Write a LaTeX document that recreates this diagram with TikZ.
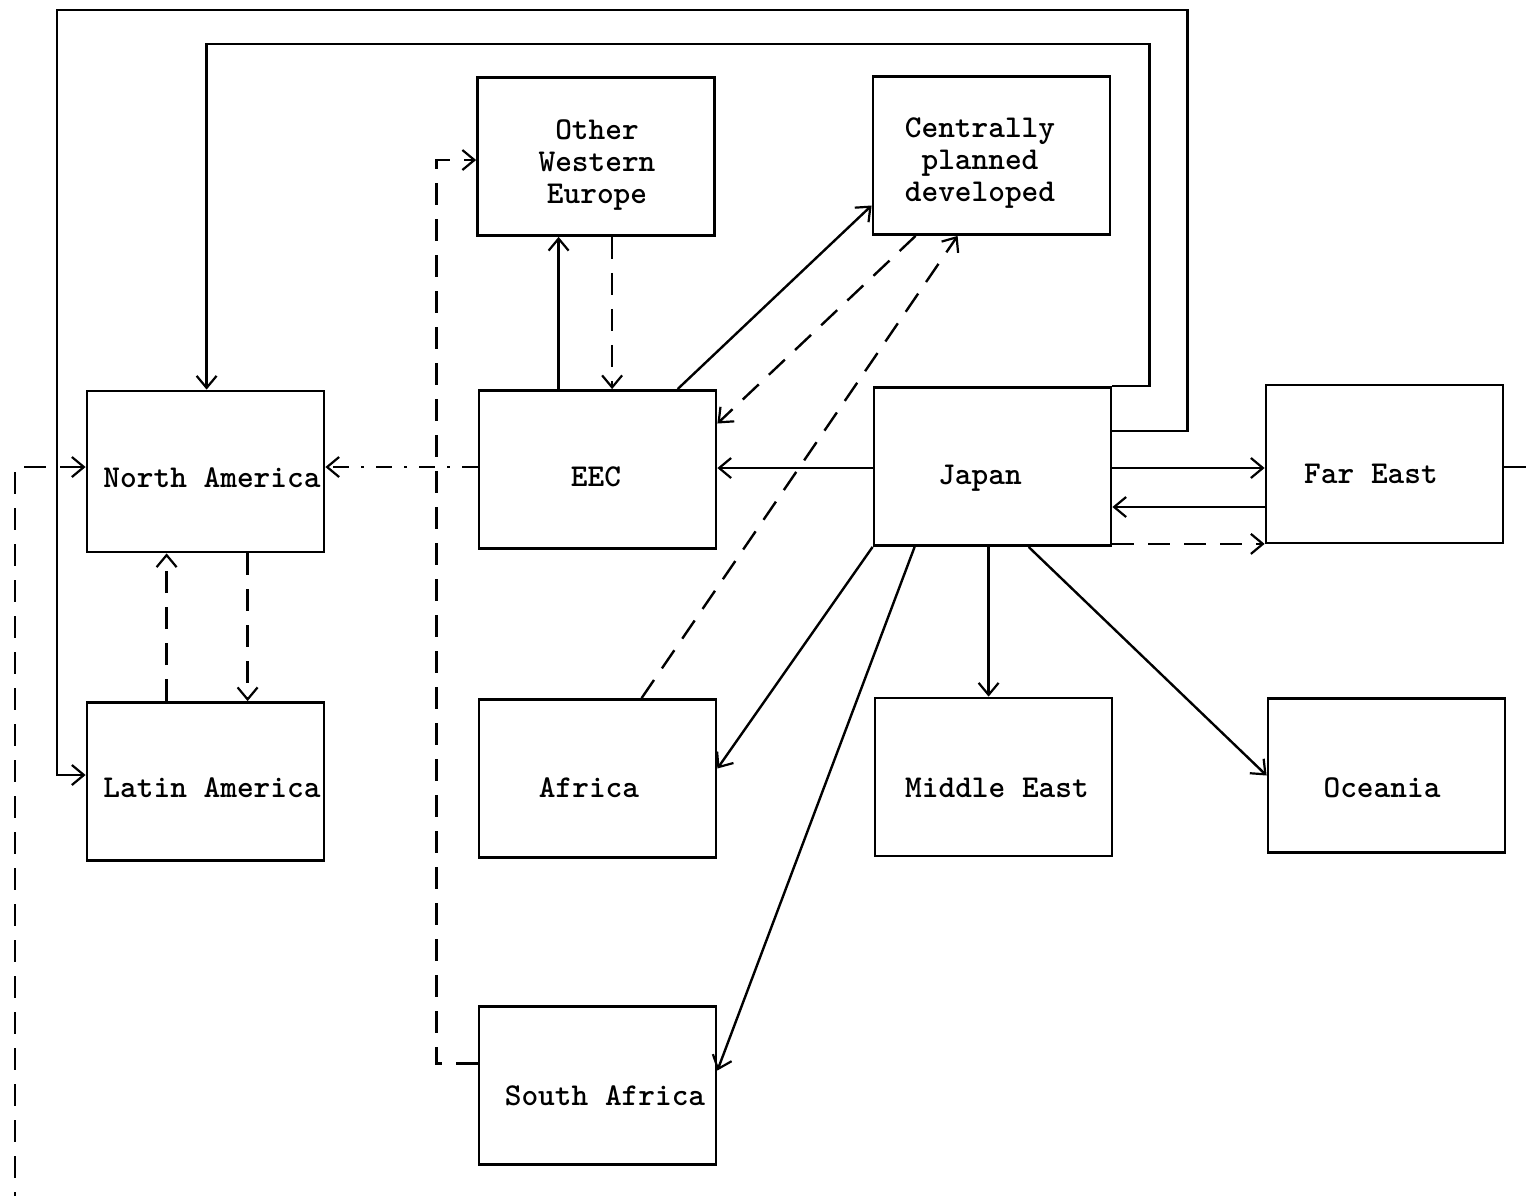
\documentclass[tikz,border=0pt]{standalone}
\usepackage{fontspec}
\usetikzlibrary{arrows.meta,calc}

\begin{document}
\begin{tikzpicture}[x=0.5pt,y=-0.5pt,
  box/.style={draw, line width=1.4pt, minimum width=118.5pt, minimum height=79pt, inner sep=0pt},
  lbl/.style={font=\ttfamily\bfseries\fontsize{15.9}{16}\selectfont, inner sep=0pt},
  conn/.style={line width=1.2pt},
  arr/.style={-{Straight Barb[length=6pt,width=10pt,line width=1.1pt]}},
  dsh/.style={conn, dash pattern=on 11pt off 7pt},
  dshdot/.style={conn, dash pattern=on 8pt off 6pt on 1.5pt off 6pt},
]
\useasboundingbox (0,0) rectangle (1526,1195);

% ---- regions ----
\node[box] (owe) at (596,156.5) {};
\node[box] (cpd) at (991.5,155.5) {};
\node[box, minimum height=80.5pt] (na) at (205.5,471.5) {};
\node[box] (eec) at (597.5,469.5) {};
\node[box] (jap) at (992.5,466.5) {};
\node[box] (fe) at (1384.5,464) {};
\node[box] (la) at (205.5,781.5) {};
\node[box] (af) at (597.5,778.5) {};
\node[box] (me) at (993.5,777) {};
\node[box, minimum height=77pt] (oc) at (1386.5,775.5) {};
\node[box] (sa) at (597.5,1085.5) {};

% ---- labels ----
\node[lbl, align=center] (oweT) at (597,165) {Other\\Western\\Europe};
\node[lbl, align=center] (cpdT) at (980,163) {Centrally\\planned\\developed};
\node[lbl, anchor=base] (naT) at (212,487) {North America};
\node[lbl, anchor=base] (eecT) at (596,486) {EEC};
\node[lbl, anchor=base] (japT) at (980,484) {Japan};
\node[lbl, anchor=base] (feT) at (1371,483) {Far East};
\node[lbl, anchor=base] (laT) at (212,797) {Latin America};
\node[lbl, anchor=base] (afT) at (589,797) {Africa};
\node[lbl, anchor=base] (meT) at (997,797) {Middle East};
\node[lbl, anchor=base] (ocT) at (1382,797) {Oceania};
\node[lbl, anchor=base] (saT) at (605,1105) {South Africa};

% ---- attachment points ----
\coordinate (j1) at ($(jap.north east)+(0,45)$);
\coordinate (l1) at ($(la.west)+(0,-6.5)$);
\coordinate (n1) at ($(na.north west)+(121,0)$);
\coordinate (f2) at ($(fe.east)+(0,3)$);
\coordinate (n3) at ($(na.west)+(0,-4.5)$);
\coordinate (e2) at ($(eec.west)+(0,-2.5)$);
\coordinate (j2) at ($(jap.west)+(0,1.5)$);
\coordinate (e1) at ($(eec.north west)+(81,0)$);
\coordinate (o1) at ($(owe.south west)+(136,0)$);
\coordinate (e3) at ($(eec.north west)+(200,0)$);
\coordinate (c1) at ($(cpd.west)+(0,50)$);
\coordinate (c2) at ($(cpd.south west)+(44,0)$);
\coordinate (e4) at ($(eec.east)+(0,-46)$);
\coordinate (a1) at ($(af.north west)+(164,0)$);
\coordinate (c3) at ($(cpd.south west)+(86,0)$);
\coordinate (l2) at ($(la.north west)+(81,0)$);
\coordinate (n2) at ($(na.south west)+(162,0)$);
\coordinate (j3) at ($(jap.east)+(0,1.5)$);
\coordinate (f1) at ($(fe.west)+(0,43)$);
\coordinate (j4) at ($(jap.south east)+(0,-3)$);
\coordinate (a2) at ($(af.east)+(0,-10)$);
\coordinate (j5) at ($(jap.south west)+(42,0)$);
\coordinate (s1) at ($(sa.east)+(0,-15)$);
\coordinate (j6) at ($(jap.south west)+(116,0)$);
\coordinate (j7) at ($(jap.south west)+(156,0)$);
\coordinate (s2) at ($(sa.west)+(0,-22)$);
\coordinate (w1) at ($(owe.west)+(0,3.5)$);

% ---- flows ----
% Japan round the top to Latin America
\draw[conn,arr] (j1) -- ++(75,0) |- (57,10) |- (l1);
% Japan round the top to North America
\draw[conn,arr] (jap.north east) -- ++(37,0) -- ++(0,-342) -| (n1);
% Far East round the page to North America
\begin{scope}
  \clip (0,0) rectangle (1526,1195);
  \draw[dsh,arr] (f2) -- (1600,467) |- (15,1260) |- (n3);
\end{scope}
% EEC to North America
\draw[dshdot,arr] (e2) -- (e2 -| na.east);
% Japan to EEC
\draw[conn,arr] (j2) -- (j2 -| eec.east);
% EEC and Other Western Europe
\draw[conn,arr] (e1) -- (e1 |- owe.south);
\draw[dsh,arr] (o1) -- (o1 |- eec.north);
% EEC and Centrally planned developed
\draw[conn,arr] (e3) -- (c1);
\draw[dsh,arr] (c2) -- (e4);
% Africa to Centrally planned developed
\draw[dsh,arr] (a1) -- (c3);
% North and Latin America
\draw[dsh,arr] (l2) -- (l2 |- na.south);
\draw[dsh,arr] (n2) -- (n2 |- la.north);
% Japan and Far East
\draw[conn,arr] (j3) -- (j3 -| fe.west);
\draw[conn,arr] (f1) -- (f1 -| jap.east);
\draw[dsh,arr] (j4) -- (j4 -| fe.west);
% Japan to the south
\draw[conn,arr] (jap.south west) -- (a2);
\draw[conn,arr] (j5) -- (s1);
\draw[conn,arr] (j6) -- (j6 |- me.north);
\draw[conn,arr] (j7) -- (oc.west);
% South Africa to Other Western Europe
\draw[dsh,arr] (s2) -- ++(-41,0) |- (w1);
\end{tikzpicture}
\end{document}
